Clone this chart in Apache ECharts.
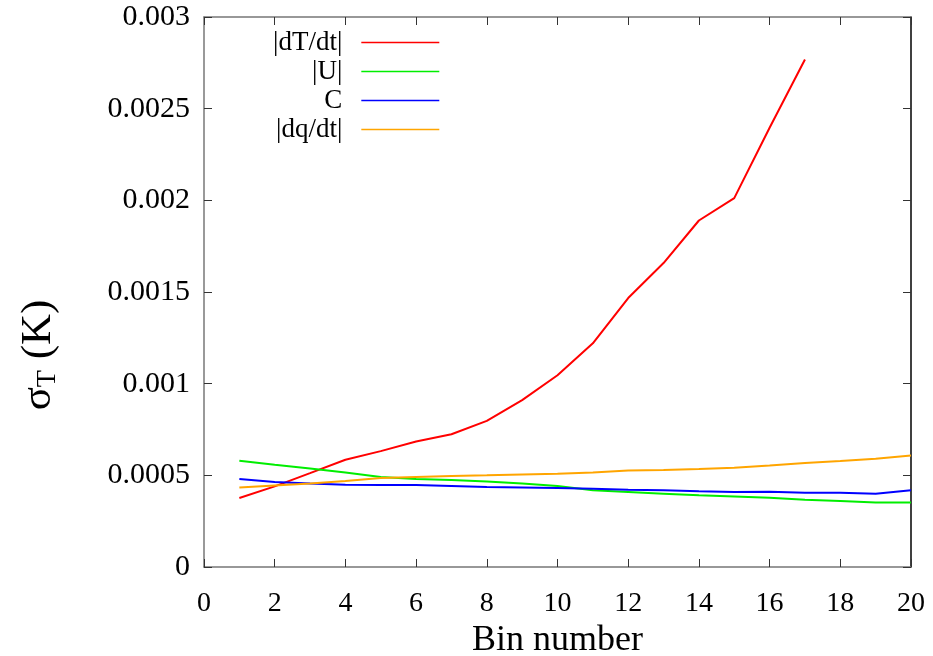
<!DOCTYPE html>
<html>
<head>
<meta charset="utf-8">
<script src="https://cdn.jsdelivr.net/npm/echarts@6/dist/echarts.min.js"></script>
<style>
  html, body { margin: 0; padding: 0; background: #ffffff; }
  #chart { width: 933px; height: 656px; }
</style>
</head>
<body>
<div id="chart"></div>
<script>
// Bin indices along the x axis
const binNumbers = [1, 2, 3, 4, 5, 6, 7, 8, 9, 10, 11, 12, 13, 14, 15, 16, 17, 18, 19, 20];

// Temperature uncertainty sigma_T (K) per bin for each sorting criterion
const dTdt = [0.000376, 0.00044, 0.000512, 0.000585, 0.000632, 0.000685, 0.000724, 0.000797, 0.00091,
              0.001046, 0.00122, 0.001467, 0.001658, 0.00189, 0.002012, 0.002396, 0.002768];
const absU = [0.00058, 0.000558, 0.000537, 0.000515, 0.000491, 0.00048, 0.000474, 0.000466, 0.000455, 0.000442,
              0.000418, 0.000409, 0.0004, 0.000391, 0.000385, 0.000378, 0.000367, 0.00036, 0.000352, 0.000352];
const cVals = [0.00048, 0.000463, 0.000455, 0.000449, 0.000447, 0.000447, 0.000442, 0.000436, 0.000434, 0.000431,
               0.000427, 0.000422, 0.000418, 0.000413, 0.000409, 0.000411, 0.000405, 0.000405, 0.0004, 0.000418];
const dqdt = [0.000433, 0.000445, 0.000456, 0.000469, 0.000485, 0.000491, 0.000496, 0.0005, 0.000505, 0.000509,
              0.000515, 0.000526, 0.000529, 0.000534, 0.000542, 0.000553, 0.000567, 0.000578, 0.000591, 0.000608];

const seriesNames = ['|dT/dt|', '|U|', 'C', '|dq/dt|'];
const yTickLabels = ['0', '0.0005', '0.001', '0.0015', '0.002', '0.0025', '0.003'];
const xTickLabels = ['0', '2', '4', '6', '8', '10', '12', '14', '16', '18', '20'];

const FONT = '"Liberation Serif", "DejaVu Serif", serif';

function pairs(ys) {
  return ys.map((v, i) => [binNumbers[i], v]);
}

// Tick marks point into the plot on all four sides
function innerTicks() {
  return { show: true, inside: true, length: 8, lineStyle: { color: '#333', width: 1 } };
}

const chart = echarts.init(document.getElementById('chart'), null, { renderer: 'canvas' });

chart.setOption({
  animation: false,
  backgroundColor: '#ffffff',
  grid: { left: 204, right: 22, top: 17, bottom: 89, containLabel: false, outerBoundsMode: 'none' },
  legend: {
    orient: 'vertical',
    left: 268,
    top: 24,
    align: 'right',
    itemWidth: 78,
    itemHeight: 1.5,
    itemGap: 2,
    icon: 'rect',
    data: seriesNames,
    textStyle: {
      fontFamily: FONT,
      fontSize: 27,
      color: '#000',
      width: 100,
      align: 'right',
      padding: [0, 14, 0, 0]
    }
  },
  xAxis: [
    {
      type: 'value', min: 0, max: 20, interval: 2, position: 'bottom',
      name: 'Bin number', nameLocation: 'middle', nameGap: 50,
      nameTextStyle: { fontFamily: FONT, fontSize: 36, color: '#000' },
      axisLine: { show: true, onZero: false, lineStyle: { color: '#777', width: 1.5 } },
      axisTick: innerTicks(),
      axisLabel: {
        fontFamily: FONT, fontSize: 28, color: '#000', margin: 23,
        formatter: v => xTickLabels[Math.round(v / 2)]
      },
      splitLine: { show: false }
    },
    {
      type: 'value', min: 0, max: 20, interval: 2, position: 'top',
      axisLine: { show: true, onZero: false, lineStyle: { color: '#777', width: 1.5 } },
      axisTick: innerTicks(),
      axisLabel: { show: false },
      splitLine: { show: false }
    }
  ],
  yAxis: [
    {
      type: 'value', min: 0, max: 0.003, interval: 0.0005, position: 'left',
      name: '{s|σ}{t|T}{s| (K)}', nameLocation: 'middle', nameGap: 142, nameRotate: 90,
      nameTextStyle: {
        color: '#000',
        padding: [0, 126, 0, 0],
        rich: {
          s: { fontFamily: FONT, fontSize: 43, color: '#000' },
          t: { fontFamily: FONT, fontSize: 28, color: '#000', padding: [18, 0, 0, 0] }
        }
      },
      axisLine: { show: true, onZero: false, lineStyle: { color: '#777', width: 1.5 } },
      axisTick: innerTicks(),
      axisLabel: {
        fontFamily: FONT, fontSize: 30, color: '#000', margin: 14,
        formatter: v => yTickLabels[Math.round(v / 0.0005)]
      },
      splitLine: { show: false }
    },
    {
      type: 'value', min: 0, max: 0.003, interval: 0.0005, position: 'right',
      axisLine: { show: true, onZero: false, lineStyle: { color: '#000', width: 1.5 } },
      axisTick: innerTicks(),
      axisLabel: { show: false },
      splitLine: { show: false }
    }
  ],
  series: [
    { name: seriesNames[0], type: 'line', data: pairs(dTdt), color: '#ff0000' },
    { name: seriesNames[1], type: 'line', data: pairs(absU), color: '#00ee00' },
    { name: seriesNames[2], type: 'line', data: pairs(cVals), color: '#0000ff' },
    { name: seriesNames[3], type: 'line', data: pairs(dqdt), color: '#ffa500' }
  ].map(s => Object.assign(s, {
    xAxisIndex: 0, yAxisIndex: 0,
    showSymbol: false, symbol: 'none',
    lineStyle: { width: 2, color: s.color },
    itemStyle: { color: s.color },
    emphasis: { disabled: true }
  }))
});
</script>
</body>
</html>
